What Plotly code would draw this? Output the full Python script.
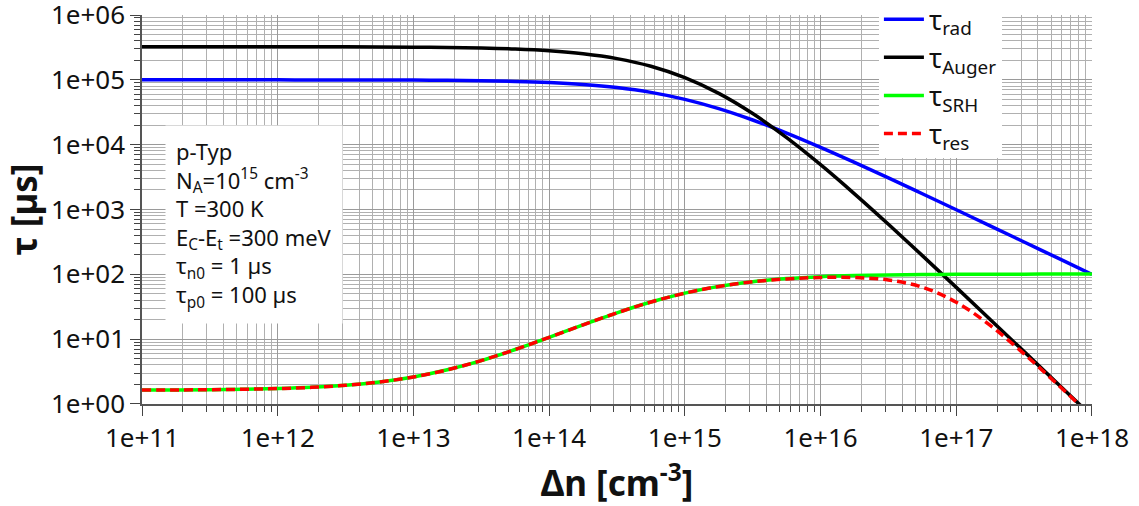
import plotly.graph_objects as go

# Δn [cm^-3], quarter-decade samples
delta_n = [1e11, 1.778e11, 3.162e11, 5.623e11,
           1e12, 1.778e12, 3.162e12, 5.623e12,
           1e13, 1.778e13, 3.162e13, 5.623e13,
           1e14, 1.778e14, 3.162e14, 5.623e14,
           1e15, 1.778e15, 3.162e15, 5.623e15,
           1e16, 1.778e16, 3.162e16, 5.623e16,
           1e17, 1.778e17, 3.162e17, 5.623e17,
           1e18]

tau_rad = [99990, 99982, 99968, 99944, 99900, 99822, 99685, 99441,
           99010, 98253, 96935, 94676, 90909, 84904, 75975, 64009,
           50000, 35997, 24027, 15099, 9091, 5325, 3066, 1747,
           990.1, 559.3, 315.3, 177.5, 99.9]

tau_auger = [323950, 323914, 323847, 323727, 323515, 323138, 322468, 321285,
             319196, 315540, 309181, 298363, 280519, 252630, 212558, 161876,
             108000, 61742, 30162, 12835, 4909, 1744.5, 590.9, 194.45,
             62.90, 20.157, 6.420, 2.0386, 0.6461]

tau_srh = [1.6399, 1.6477, 1.6614, 1.6858, 1.7293, 1.8064, 1.9432, 2.1856,
           2.6139, 3.3659, 4.6758, 6.9201, 10.664, 16.631, 25.502, 37.395,
           51.315, 65.230, 77.125, 85.996, 91.966, 95.709, 97.954, 99.264,
           100.016, 100.444, 100.687, 100.824, 100.901]

tau_res = [1.6399, 1.6476, 1.6614, 1.6858, 1.7292, 1.8063, 1.9432, 2.1856,
           2.6138, 3.3658, 4.6755, 6.9195, 10.662, 16.627, 25.491, 37.364,
           51.237, 65.044, 76.681, 84.946, 89.387, 89.214, 81.782, 63.335,
           37.166, 16.299, 5.9218, 1.9760, 0.6379]

x_tick_vals = [1e11, 1e12, 1e13, 1e14, 1e15, 1e16, 1e17, 1e18]
x_tick_text = ["1e+11", "1e+12", "1e+13", "1e+14", "1e+15", "1e+16", "1e+17", "1e+18"]
y_tick_vals = [1e0, 1e1, 1e2, 1e3, 1e4, 1e5, 1e6]
y_tick_text = ["1e+00", "1e+01", "1e+02", "1e+03", "1e+04", "1e+05", "1e+06"]

x_minor = [m * 10 ** e for e in range(11, 18) for m in range(2, 10)]
y_minor = [m * 10 ** e for e in range(0, 6) for m in range(2, 10)]

FONT = "Noto Sans"
LW = 3.5

fig = go.Figure()
fig.add_trace(go.Scatter(x=delta_n, y=tau_rad, mode="lines", name="τ<sub>rad</sub>",
                         line=dict(color="#0000ff", width=LW, shape="spline")))
fig.add_trace(go.Scatter(x=delta_n, y=tau_auger, mode="lines", name="τ<sub>Auger</sub>",
                         line=dict(color="#000000", width=LW, shape="spline")))
fig.add_trace(go.Scatter(x=delta_n, y=tau_srh, mode="lines", name="τ<sub>SRH</sub>",
                         line=dict(color="#00ff00", width=LW, shape="spline")))
fig.add_trace(go.Scatter(x=delta_n, y=tau_res, mode="lines", name="τ<sub>res</sub>",
                         line=dict(color="#ff0000", width=LW, dash="9px,5px", shape="spline")))

axis_common = dict(
    showline=True, linecolor="#555555", linewidth=1.5,
    ticks="outside", ticklen=10, tickwidth=1.2, tickcolor="#444444",
    showgrid=True, gridcolor="#9a9a9a", gridwidth=1,
    zeroline=False,
    ticklabeloverflow="allow",
    tickfont=dict(family=FONT, size=26, color="#111111"),
)

fig.update_xaxes(
    type="log", range=[11 - 1e-4, 18 + 1e-4],
    tickmode="array", tickvals=x_tick_vals, ticktext=x_tick_text,
    title=dict(text="<b>Δn [cm<sup>-3</sup>]</b>", font=dict(family=FONT, size=35, color="#111111"), standoff=20),
    minor=dict(tickmode="array", tickvals=x_minor, ticks="outside", ticklen=6,
               tickcolor="#444444", showgrid=True, gridcolor="#b0b0b0", gridwidth=1),
    **axis_common,
)
fig.update_yaxes(
    type="log", range=[0 - 1e-4, 6 + 1e-4],
    tickmode="array", tickvals=y_tick_vals, ticktext=y_tick_text,
    title=dict(text="<b>τ [µs]</b>", font=dict(family=FONT, size=35, color="#111111"), standoff=8),
    minor=dict(tickmode="array", tickvals=y_minor, ticks="outside", ticklen=6,
               tickcolor="#444444", showgrid=True, gridcolor="#b0b0b0", gridwidth=1),
    **axis_common,
)

fig.add_annotation(
    xref="paper", yref="paper", x=0.0242, y=0.7173, xanchor="left", yanchor="top",
    text=("p-Typ<br>N<sub>A</sub>=10<sup>15</sup> cm<sup>-3</sup><br>T =300 K<br>"
          "E<sub>C</sub>-E<sub>t</sub> =300 meV<br>τ<sub>n0</sub> = 1 µs<br>τ<sub>p0</sub> = 100 µs"),
    align="left", showarrow=False, bgcolor="white", borderpad=10,
    font=dict(family=FONT, size=22, color="#111111"),
)

fig.update_layout(
    width=1139, height=506,
    margin=dict(l=142, r=47, t=15, b=102, autoexpand=False),
    paper_bgcolor="white", plot_bgcolor="white",
    showlegend=True,
    legend=dict(x=0.7757, y=1.051, xanchor="left", yanchor="top", bgcolor="white",
                font=dict(family=FONT, size=27, color="#111111"),
                itemwidth=40, tracegroupgap=0),
    font=dict(family=FONT),
)

fig.write_html("out.html")
